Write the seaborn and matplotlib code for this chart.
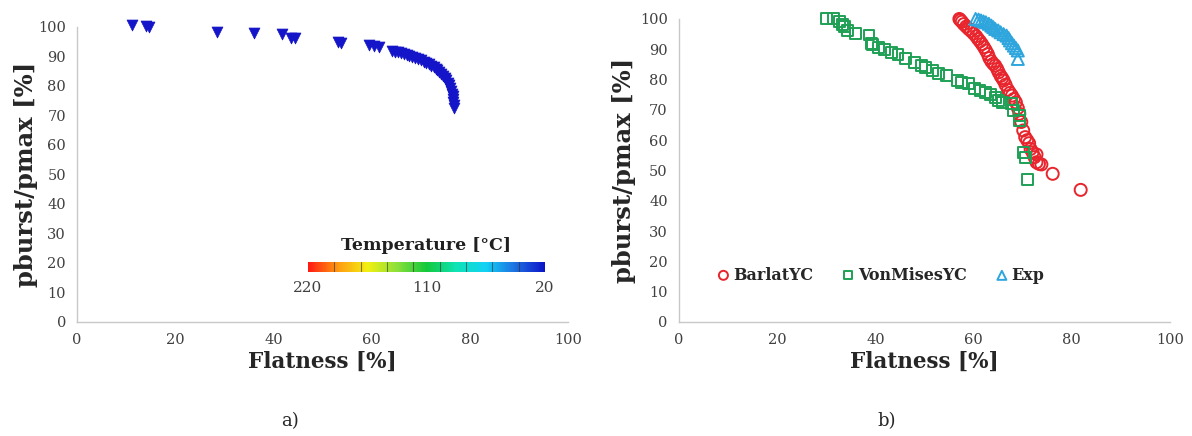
import numpy as np
import matplotlib
matplotlib.use("Agg")
import matplotlib.pyplot as plt
import matplotlib as mpl
import seaborn as sns

# panel a) - flatness vs burst pressure (all at 20 C)
flat_a = [11.3, 14.1, 14.6, 28.6, 36.0, 41.7, 43.6, 44.4, 53.2, 53.7, 59.5, 60.5, 61.4,
          64.2, 64.8, 65.3, 65.9, 66.5, 67.1, 67.7, 68.3, 68.9, 69.5, 70.1, 70.6, 71.1,
          71.6, 72.1, 72.6, 73.0, 73.4, 73.8, 74.2, 74.6, 74.9, 75.2, 75.5, 75.8, 76.0,
          76.2, 76.4, 76.5, 76.6, 76.6, 76.7, 76.7]
p_a = [100.6, 100.2, 99.9, 98.3, 97.8, 97.4, 96.3, 96.1, 94.8, 94.4, 94.0, 93.5, 93.0,
       91.8, 91.6, 91.4, 91.1, 90.8, 90.5, 90.1, 89.8, 89.4, 89.0, 88.6, 88.2, 87.8,
       87.3, 86.8, 86.3, 85.8, 85.2, 84.6, 84.0, 83.3, 82.6, 81.9, 81.1, 80.2, 79.3,
       78.4, 77.4, 76.4, 75.4, 74.4, 73.4, 72.4]

# panel b) - yield criterion comparison
flat_barlat = [57.1, 57.3, 57.6, 58.0, 58.5, 59.0, 59.5, 60.0, 60.5, 60.9, 61.3, 61.7,
               62.1, 62.5, 62.9, 63.2, 63.6, 64.0, 64.4, 64.8, 65.1, 65.5, 65.8, 66.1,
               66.5, 67.0, 67.4, 67.8, 68.2, 68.6, 69.0, 69.3, 69.7, 70.1, 70.5, 70.9,
               71.3, 71.6, 72.0, 72.4, 72.8, 72.8, 73.3, 73.8, 76.1, 81.8]
p_barlat = [100.0, 99.6, 99.1, 98.3, 97.5, 96.7, 96.0, 95.2, 94.3, 93.4, 92.6, 91.7,
            90.7, 89.6, 88.4, 87.1, 86.0, 85.2, 84.6, 83.5, 82.4, 81.2, 80.5, 79.7,
            78.3, 76.6, 75.6, 74.7, 73.6, 72.5, 70.6, 68.7, 66.0, 63.2, 61.0, 60.0,
            59.0, 57.1, 56.0, 54.4, 55.3, 52.7, 52.2, 52.0, 48.9, 43.6]

flat_mises = [30.0, 31.4, 32.7, 33.3, 33.7, 34.3, 36.0, 38.7, 39.3, 39.5, 40.6, 41.8,
              43.3, 44.6, 46.2, 47.9, 49.4, 50.2, 51.7, 52.9, 54.4, 56.7, 57.5, 59.0,
              60.2, 61.3, 62.5, 63.5, 64.4, 65.1, 65.9, 67.8, 68.2, 69.3, 69.3, 70.1,
              70.5, 71.0]
p_mises = [100.0, 100.0, 99.2, 98.1, 97.5, 96.2, 95.1, 94.7, 92.0, 91.5, 90.7, 89.8,
           89.0, 88.2, 86.8, 85.7, 84.6, 84.1, 83.0, 82.1, 81.3, 79.7, 79.1, 78.6,
           76.9, 76.3, 75.8, 75.0, 74.2, 73.1, 72.5, 72.0, 69.8, 68.1, 66.5, 56.0,
           54.4, 47.0]

flat_exp = [60.4, 61.0, 61.5, 62.0, 62.5, 63.1, 63.6, 64.0, 64.4, 65.0, 65.5, 66.1,
            66.7, 67.1, 67.4, 67.8, 68.2, 68.6, 69.0, 69.0]
p_exp = [100.0, 99.8, 99.5, 99.2, 98.9, 98.4, 97.8, 97.3, 96.7, 96.2, 95.6, 95.0,
         94.5, 93.7, 92.9, 92.0, 91.2, 90.4, 89.6, 86.8]

temp_labels = ["220", "110", "20"]
temp_min, temp_max = 20, 220
# colour scale as printed, from 20 C (blue) up to 220 C (red)
temp_colors = ["#0A14C8", "#1F6FE0", "#12D2F5", "#10E3B5", "#12C83A",
               "#8CE03A", "#F2F012", "#FF9A10", "#FF1A14"]

sns.set_style("white")
plt.rcParams['font.family'] = ['DejaVu Serif', 'DejaVu Sans']

fig = plt.figure(figsize=(11.92, 4.36), dpi=100)
ax_a = fig.add_axes([0.0646, 0.2615, 0.412, 0.677])
ax_b = fig.add_axes([0.5696, 0.2615, 0.412, 0.695])

blue_dark = "#1414C8"
red = "#E8242C"
green = "#1FA055"
sky = "#2EA6DD"

sns.scatterplot(x=flat_a, y=p_a, ax=ax_a, marker="v", s=62, color=blue_dark,
                edgecolor=blue_dark, linewidth=0.5, legend=False, clip_on=False)

sns.scatterplot(x=flat_barlat, y=p_barlat, ax=ax_b, marker="o", s=75, fc="none",
                edgecolor=red, linewidth=1.4, label="BarlatYC", clip_on=False)
sns.scatterplot(x=flat_mises, y=p_mises, ax=ax_b, marker="s", s=62, fc="none",
                edgecolor=green, linewidth=1.4, label="VonMisesYC", clip_on=False)
sns.scatterplot(x=flat_exp, y=p_exp, ax=ax_b, marker="^", s=75, fc="none",
                edgecolor=sky, linewidth=1.4, label="Exp", clip_on=False)

for ax, ylab_x in ((ax_a, -0.079), (ax_b, -0.088)):
    ax.set_xlim(0, 100)
    ax.set_ylim(0, 100)
    ax.set_xticks(range(0, 101, 20))
    ax.set_yticks(range(0, 101, 10))
    for side in ("top", "right"):
        ax.spines[side].set_visible(False)
    for side in ("left", "bottom"):
        ax.spines[side].set_color("#C8C8C8")
        ax.spines[side].set_linewidth(1.0)
    ax.tick_params(axis="y", direction="out", length=4, width=1.0, color="#C8C8C8",
                   labelsize=10.5, labelcolor="#404040", pad=4)
    ax.tick_params(axis="x", direction="in", length=3, width=1.0, color="#C8C8C8",
                   labelsize=10.5, labelcolor="#404040", pad=8)
    ax.set_xlabel("Flatness [%]", fontsize=15.5, fontweight="bold", labelpad=3)
    ax.set_ylabel("pburst/pmax [%]", fontsize=17.5, fontweight="bold")
    ax.yaxis.set_label_coords(ylab_x, 0.5)

leg = ax_b.legend(ncol=3, frameon=False, loc="center left", bbox_to_anchor=(0.071, 0.155),
                  handletextpad=0.0, columnspacing=1.6, handlelength=1.2,
                  fontsize=11.5, markerscale=0.75, borderaxespad=0, borderpad=0)
for t in leg.get_texts():
    t.set_fontweight("bold")
    t.set_color("#262626")

# temperature colour bar
cax = fig.add_axes([0.2584, 0.376, 0.1988, 0.023])
cb = mpl.colorbar.ColorbarBase(cax, cmap=mpl.colors.LinearSegmentedColormap.from_list("temp", temp_colors),
                               norm=mpl.colors.Normalize(temp_min, temp_max),
                               orientation="horizontal")
cax.invert_xaxis()
cax.set_xticks([])
cb.outline.set_visible(False)
for v in np.linspace(temp_min, temp_max, 10)[1:-1]:
    cax.axvline(v, color="#303030", linewidth=0.8, alpha=0.6)
fig.text(0.3578, 0.418, "Temperature [°C]", ha="center", va="bottom", fontsize=12.5,
         fontweight="bold", color="#202020")
fig.text(0.2584, 0.355, temp_labels[0], ha="center", va="top", fontsize=11, color="#404040")
fig.text(0.3578, 0.355, temp_labels[1], ha="center", va="top", fontsize=11, color="#404040")
fig.text(0.4572, 0.355, temp_labels[2], ha="center", va="top", fontsize=11, color="#404040")

fig.text(0.243, 0.035, "a)", ha="center", va="center", fontsize=13)
fig.text(0.744, 0.035, "b)", ha="center", va="center", fontsize=13)

fig.savefig("out.png", dpi=100)
